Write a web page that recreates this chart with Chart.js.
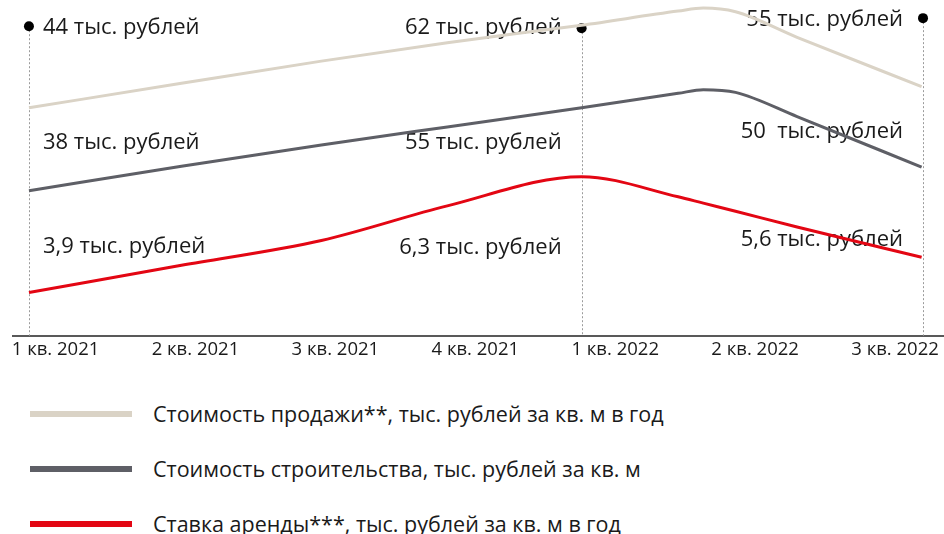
<!DOCTYPE html>
<html lang="ru">
<head>
<meta charset="utf-8">
<title>Стоимость продажи, строительства и ставка аренды</title>
<script src="https://cdn.jsdelivr.net/npm/chart.js@4.4.1/dist/chart.umd.min.js"></script>
<style>
  html, body { margin: 0; padding: 0; background: #fff; }
  body { width: 944px; height: 534px; overflow: hidden; font-family: "Open Sans", sans-serif; color: #1a1a1a; }
  #chartBox { position: relative; width: 944px; height: 372px; }
  #legend { list-style: none; margin: 14px 0 0 0; padding: 0; }
  #legend li { display: flex; align-items: center; height: 55px; font-size: 21.5px; }
  #legend .swatch { width: 102px; height: 6px; margin: 0 21px 0 30px; flex: none; }
</style>
</head>
<body>
<div id="chartBox"><canvas id="priceChart"></canvas></div>
<ul id="legend"></ul>

<script>
const quarters = ["1 кв. 2021", "2 кв. 2021", "3 кв. 2021", "4 кв. 2021", "1 кв. 2022", "2 кв. 2022", "3 кв. 2022"];

// where the curves are sampled, in quarters (0 = "1 кв. 2021" label)
const curveX = [-0.19, 0.9, 1.9, 2.8, 3.76, 4.45, 4.63, 4.86, 5.3, 6.19];

// the picture has no value scale, so curves are read as heights 0..100
const saleLevel = [67.9, 75.2, 81.8, 87.3, 92.5, 96.7, 97.6, 96.5, 88.9, 74.2];
const buildLevel = [43.2, 50.5, 56.8, 62.2, 67.9, 72.2, 73.3, 72.5, 65.3, 50.2];
const rentLevel = [12.9, 21.0, 28.4, 38.7, 47.4, 41.4, 39.5, 37.1, 32.4, 23.4];

// dates marked with a dot and a dotted line
const markerX = [-0.19, 3.76, 6.2];
const markerLevel = [92.2, 91.6, 94.6];

// captions at each marked date, тыс. рублей
const saleValues = ["44", "62", "55"];
const buildValues = ["38", "55", "50 "];
const rentValues = ["3,9", "6,3", "5,6"];

const seriesNames = [
  "Стоимость продажи**, тыс. рублей за кв. м в год",
  "Стоимость строительства, тыс. рублей за кв. м",
  "Ставка аренды***, тыс. рублей за кв. м в год",
];
const seriesColors = ["#dad3c6", "#5e5f66", "#e30613"];

const toPoints = (levels) => levels.map((v, i) => ({ x: curveX[i], y: v }));

// caption rows: which values, at what height
const captionRows = [
  { values: saleValues, levels: [91.6, 91.6, 94.0] },
  { values: buildValues, levels: [57.4, 57.4, 60.7] },
  { values: rentValues, levels: [26.4, 26.1, 28.5] },
];
const captionSide = ["right", "left", "left"];

const markerLines = {
  id: "markerLines",
  beforeDatasetsDraw(chart) {
    const { ctx, chartArea, scales } = chart;
    const x = scales.x;
    const y = scales.y;

    ctx.save();
    ctx.strokeStyle = "#9b9b9b";
    ctx.lineWidth = 1;
    ctx.setLineDash([2, 2]);
    markerX.forEach((mx, i) => {
      const px = Math.round(x.getPixelForValue(mx)) + 0.5;
      ctx.beginPath();
      ctx.moveTo(px, y.getPixelForValue(markerLevel[i]));
      ctx.lineTo(px, chartArea.bottom);
      ctx.stroke();
    });
    ctx.setLineDash([]);

    // captions
    ctx.font = '22px "Open Sans", sans-serif';
    ctx.fillStyle = "#1a1a1a";
    ctx.textBaseline = "middle";
    captionRows.forEach((row) => {
      row.values.forEach((val, i) => {
        const px = x.getPixelForValue(markerX[i]);
        const py = y.getPixelForValue(row.levels[i]);
        if (captionSide[i] === "right") {
          ctx.textAlign = "left";
          ctx.fillText(val + " тыс. рублей", px + 14, py);
        } else {
          ctx.textAlign = "right";
          ctx.fillText(val + " тыс. рублей", px - 20, py);
        }
      });
    });
    ctx.restore();
  },
};

const lineStyle = (label, levels, color) => ({
  label,
  data: toPoints(levels),
  borderColor: color,
  backgroundColor: color,
  borderWidth: 3,
  pointRadius: 0,
  fill: false,
  cubicInterpolationMode: "monotone",
});

const ctx = document.getElementById("priceChart").getContext("2d");
const priceChart = new Chart(ctx, {
  type: "line",
  data: {
    datasets: [
      lineStyle(seriesNames[0], saleLevel, seriesColors[0]),
      lineStyle(seriesNames[1], buildLevel, seriesColors[1]),
      lineStyle(seriesNames[2], rentLevel, seriesColors[2]),
      {
        type: "scatter",
        label: "markers",
        data: markerX.map((mx, i) => ({ x: mx, y: markerLevel[i] })),
        pointRadius: 5,
        pointBackgroundColor: "#000",
        pointBorderWidth: 0,
        showLine: false,
        clip: false,
      },
    ],
  },
  options: {
    responsive: true,
    maintainAspectRatio: false,
    animation: false,
    layout: { autoPadding: false, padding: { left: 13, right: 0, top: 0, bottom: 8 } },
    scales: {
      x: {
        type: "linear",
        min: -0.304,
        max: 6.35,
        afterBuildTicks: (axis) => {
          axis.ticks = quarters.map((q, i) => ({ value: i }));
        },
        ticks: {
          callback: (v) => quarters[v],
          font: { family: "Open Sans", size: 18.5 },
          color: "#1a1a1a",
          padding: 3,
          maxRotation: 0,
          autoSkip: false,
        },
        grid: { display: false, drawTicks: false },
        border: { display: true, color: "#595959", width: 2 },
      },
      y: { display: false, min: 0, max: 100 },
    },
    plugins: {
      legend: { display: false },
      tooltip: { enabled: false },
    },
  },
  plugins: [markerLines],
});

const legendList = document.getElementById("legend");
priceChart.data.datasets.slice(0, 3).forEach((ds) => {
  const li = document.createElement("li");
  const swatch = document.createElement("span");
  swatch.className = "swatch";
  swatch.style.background = ds.borderColor;
  const text = document.createElement("span");
  text.textContent = ds.label;
  li.appendChild(swatch);
  li.appendChild(text);
  legendList.appendChild(li);
});
</script>
</body>
</html>
